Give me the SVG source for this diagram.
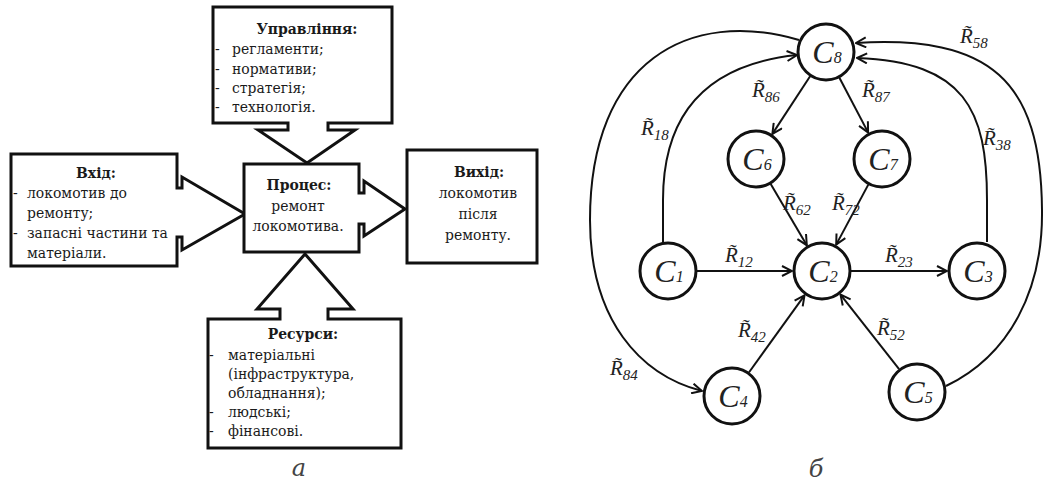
<svg xmlns="http://www.w3.org/2000/svg" width="1044" height="483" viewBox="0 0 1044 483">
<style>
.box{fill:#fff;stroke:#111;stroke-width:3;stroke-linejoin:miter}
.t{font-family:"DejaVu Serif",serif;font-stretch:condensed;font-size:15.5px;fill:#1a1a1a}
.h{font-weight:bold;text-anchor:middle}
.m{text-anchor:middle}
.node{fill:#fff;stroke:#111;stroke-width:3}
.e{fill:none;stroke:#111;stroke-width:2}
.c{font-family:"Liberation Serif",serif;font-style:italic;font-size:32px;fill:#222;text-anchor:middle}
.cs{font-size:16px}
.r{font-family:"Liberation Serif",serif;font-style:italic;font-size:21px;fill:#222}
.rs{font-size:15px}
.cap{font-family:"DejaVu Serif",serif;font-style:italic;font-size:24px;fill:#444;text-anchor:middle}
</style>
<defs>
<marker id="ah" viewBox="0 0 12 12" refX="11" refY="6" markerWidth="12" markerHeight="12" markerUnits="userSpaceOnUse" orient="auto">
<path d="M1,1 L11,6 L1,11" fill="none" stroke="#111" stroke-width="2"/>
</marker>
</defs>

<!-- Left diagram (a) -->
<g id="input">
<path class="box" d="M11,154 H177 V188 H182 V177 L245,214 L182,250 V237 H177 V266 H11 Z"/>
<text class="t h" x="96" y="178">Вхід:</text>
<text class="t" y="198"><tspan x="13">-</tspan><tspan x="27">локомотив до</tspan></text>
<text class="t" x="27" y="218">ремонту;</text>
<text class="t" y="238"><tspan x="13">-</tspan><tspan x="27">запасні частини та</tspan></text>
<text class="t" x="27" y="258">матеріали.</text>
</g>

<g id="control">
<path class="box" d="M213,7 H392 V123 H328 V130 H355 L307,163 L258,130 H288 V123 H213 Z"/>
<text class="t h" x="307" y="34">Управління:</text>
<text class="t" y="54"><tspan x="215">-</tspan><tspan x="232">регламенти;</tspan></text>
<text class="t" y="74"><tspan x="215">-</tspan><tspan x="232">нормативи;</tspan></text>
<text class="t" y="93"><tspan x="215">-</tspan><tspan x="232">стратегія;</tspan></text>
<text class="t" y="112"><tspan x="215">-</tspan><tspan x="232">технологія.</tspan></text>
</g>

<g id="process">
<path class="box" d="M244,164 H359 V193 H364 V181 L405,209 L364,236 V224 H359 V252 H244 Z"/>
<text class="t h" x="299" y="190">Процес:</text>
<text class="t m" x="298" y="211">ремонт</text>
<text class="t m" x="298" y="231">локомотива.</text>
</g>

<g id="output">
<rect class="box" x="407" y="150" width="130" height="113"/>
<text class="t h" x="479" y="177">Вихід:</text>
<text class="t m" x="478" y="198">локомотив</text>
<text class="t m" x="478" y="219">після</text>
<text class="t m" x="478" y="240">ремонту.</text>
</g>

<g id="resources">
<path class="box" d="M208,319 H280 V309 H257 L305,254 L353,309 H328 V319 H401 V448 H208 Z"/>
<text class="t h" x="303" y="339">Ресурси:</text>
<text class="t" y="360"><tspan x="209">-</tspan><tspan x="228">матеріальні</tspan></text>
<text class="t" x="228" y="379">(інфраструктура,</text>
<text class="t" x="228" y="398">обладнання);</text>
<text class="t" y="417"><tspan x="209">-</tspan><tspan x="228">людські;</tspan></text>
<text class="t" y="436"><tspan x="209">-</tspan><tspan x="228">фінансові.</tspan></text>
</g>

<text class="cap" x="299" y="476">а</text>

<!-- Right diagram (b) -->
<g id="connectors">
<path class="e" marker-end="url(#ah)" d="M697,271 H792"/>
<path class="e" marker-end="url(#ah)" d="M851,271 H947"/>
<path class="e" marker-end="url(#ah)" d="M810.1,76.3 L772.4,133.9"/>
<path class="e" marker-end="url(#ah)" d="M839.4,77.7 L868.1,132.4"/>
<path class="e" marker-end="url(#ah)" d="M770.7,184 L806.8,245.2"/>
<path class="e" marker-end="url(#ah)" d="M868.3,184.6 L836.2,244.6"/>
<path class="e" marker-end="url(#ah)" d="M748.9,372.5 L804.5,295.4"/>
<path class="e" marker-end="url(#ah)" d="M899.1,369.2 L840.5,294.6"/>
<path class="e" marker-end="url(#ah)" d="M663,243 L663,200 C663,120 700,65 797,55"/>
<path class="e" marker-end="url(#ah)" d="M799,40 C690,8 590,60 590,220 C590,320 640,375 702,391"/>
<path class="e" marker-end="url(#ah)" d="M987,242 L987,200 C987,110 965,62 857,58"/>
<path class="e" marker-end="url(#ah)" d="M946,386 C1010,355 1043,290 1042,210 C1041,80 990,35 856,43"/>
</g>

<g id="labels">
<text class="r" x="752" y="97">R̃<tspan class="rs" dy="5">86</tspan></text>
<text class="r" x="862" y="97">R̃<tspan class="rs" dy="5">87</tspan></text>
<text class="r" x="641" y="135">R̃<tspan class="rs" dy="5">18</tspan></text>
<text class="r" x="783" y="210">R̃<tspan class="rs" dy="5">62</tspan></text>
<text class="r" x="832" y="210">R̃<tspan class="rs" dy="5">72</tspan></text>
<text class="r" x="725" y="262">R̃<tspan class="rs" dy="5">12</tspan></text>
<text class="r" x="885" y="262">R̃<tspan class="rs" dy="5">23</tspan></text>
<text class="r" x="738" y="337">R̃<tspan class="rs" dy="5">42</tspan></text>
<text class="r" x="877" y="335">R̃<tspan class="rs" dy="5">52</tspan></text>
<text class="r" x="610" y="375">R̃<tspan class="rs" dy="5">84</tspan></text>
<text class="r" x="960" y="43">R̃<tspan class="rs" dy="5">58</tspan></text>
<text class="r" x="983" y="145">R̃<tspan class="rs" dy="5">38</tspan></text>
</g>

<g id="C8"><circle class="node" cx="826" cy="52" r="28"/><text class="c" x="827" y="63">C<tspan class="cs">8</tspan></text></g>
<g id="C6"><circle class="node" cx="756" cy="159" r="28"/><text class="c" x="757" y="170">C<tspan class="cs">6</tspan></text></g>
<g id="C7"><circle class="node" cx="882" cy="159" r="28"/><text class="c" x="883" y="170">C<tspan class="cs">7</tspan></text></g>
<g id="C1"><circle class="node" cx="668" cy="271" r="28"/><text class="c" x="669" y="282">C<tspan class="cs">1</tspan></text></g>
<g id="C2"><circle class="node" cx="822" cy="271" r="28"/><text class="c" x="823" y="282">C<tspan class="cs">2</tspan></text></g>
<g id="C3"><circle class="node" cx="977" cy="271" r="28"/><text class="c" x="978" y="282">C<tspan class="cs">3</tspan></text></g>
<g id="C4"><circle class="node" cx="732" cy="396" r="28"/><text class="c" x="733" y="407">C<tspan class="cs">4</tspan></text></g>
<g id="C5"><circle class="node" cx="917" cy="392" r="28"/><text class="c" x="918" y="403">C<tspan class="cs">5</tspan></text></g>

<text class="cap" x="816" y="477">б</text>
</svg>
